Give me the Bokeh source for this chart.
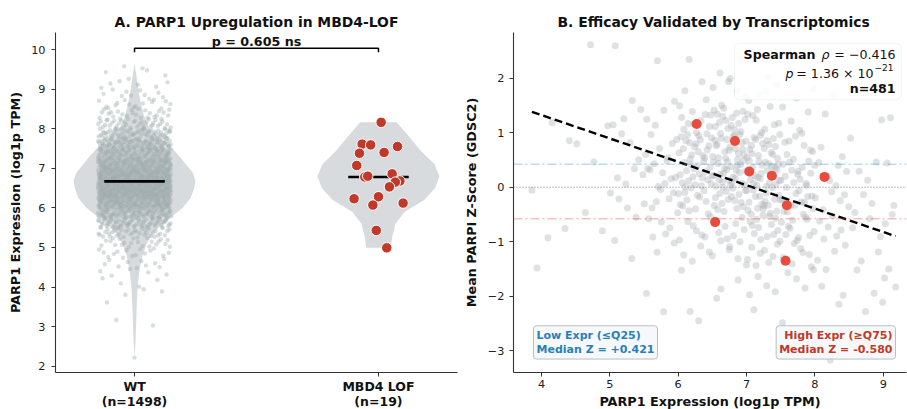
import numpy as np
from bokeh.plotting import figure
from bokeh.models import Range1d, FixedTicker, Label, BoxAnnotation, Span
from bokeh.layouts import row
from bokeh.embed import file_html
from bokeh.resources import INLINE

FONT = "DejaVu Sans"

# ---------------- Panel A data ----------------
group_names = ["WT", "MBD4 LOF"]
group_sizes = [1498, 19]
# WT expression histogram read from the strip cloud (bin edges, counts)
wt_bin_edges = [2.2, 2.25, 2.5, 2.75, 3.0, 3.25, 3.5, 3.75, 4.0, 4.25, 4.5, 4.75,
                5.0, 5.25, 5.5, 5.75, 6.0, 6.25, 6.5, 6.75, 7.0, 7.25, 7.5, 7.75,
                8.0, 8.25, 8.5, 8.75, 9.0, 9.25, 9.5, 9.65]
wt_bin_counts = [1, 0, 0, 0, 2, 0, 1, 3, 4, 6, 10, 14, 22, 38, 65, 100, 152, 199,
                 194, 171, 147, 112, 93, 65, 38, 24, 15, 10, 6, 4, 2]
# violin outlines (value, relative half-width)
wt_violin_y = [2.23, 2.6, 3.0, 3.5, 4.0, 4.4, 4.8, 5.1, 5.4, 5.7, 6.0, 6.25, 6.5,
               6.7, 6.9, 7.1, 7.3, 7.5, 7.75, 8.0, 8.3, 8.6, 8.9, 9.2, 9.45, 9.65]
wt_violin_w = [0.0, 0.015, 0.025, 0.035, 0.05, 0.08, 0.13, 0.2, 0.32, 0.55, 0.79,
               0.92, 0.98, 1.0, 0.95, 0.84, 0.74, 0.62, 0.42, 0.25, 0.16, 0.11,
               0.07, 0.045, 0.02, 0.0]
mbd4_values = [8.16, 7.61, 7.59, 7.55, 7.38, 7.40, 7.07, 6.86, 6.78, 6.80, 6.68,
               6.65, 6.53, 6.28, 6.23, 6.07, 6.12, 5.43, 4.99]
mbd4_jitter = [0.011, -0.067, -0.032, 0.078, -0.078, 0.023, -0.089, 0.056, -0.056,
               -0.044, 0.088, 0.069, 0.045, 0.0, -0.1, -0.023, 0.101, -0.009, 0.034]
mbd4_violin_y = [4.99, 5.3, 5.6, 5.9, 6.2, 6.5, 6.8, 7.1, 7.45, 7.8, 8.16]
mbd4_violin_w = [0.2, 0.23, 0.28, 0.43, 0.75, 0.93, 1.0, 0.92, 0.69, 0.5, 0.3]
p_label = "p = 0.605 ns"

# ---------------- Panel B data ----------------
expr_edges = [3.85, 4.0, 4.5, 5.0, 5.5, 6.0, 6.5, 7.0, 7.5, 8.0, 8.5, 9.0, 9.2]
z_edges = [2.65, 2.45, 2.0, 1.5, 1.0, 0.5, 0.0, -0.5, -1.0, -1.5, -2.0, -2.5, -3.0, -3.2]
# counts of cell lines per (expression bin) column, z bins top -> bottom
cell_counts_by_expr_bin = [
    [0, 0, 0, 0, 0, 0, 1, 0, 1, 0, 0, 0, 0],
    [0, 0, 0, 1, 1, 0, 0, 2, 0, 0, 0, 0, 0],
    [1, 0, 0, 1, 1, 1, 1, 1, 0, 0, 0, 0, 0],
    [1, 0, 1, 3, 3, 4, 3, 2, 1, 0, 0, 0, 0],
    [0, 1, 1, 3, 6, 9, 7, 5, 2, 1, 1, 0, 0],
    [0, 1, 3, 11, 19, 20, 13, 7, 4, 1, 2, 0, 0],
    [0, 2, 6, 16, 22, 25, 17, 10, 5, 2, 1, 0, 0],
    [0, 1, 4, 9, 18, 25, 20, 14, 8, 4, 1, 0, 0],
    [0, 1, 2, 4, 9, 15, 14, 11, 7, 4, 1, 0, 0],
    [0, 0, 1, 1, 2, 6, 6, 6, 3, 3, 1, 0, 1],
    [0, 0, 0, 1, 1, 3, 3, 3, 2, 2, 2, 1, 0],
    [0, 0, 0, 1, 0, 1, 1, 2, 1, 2, 0, 0, 0],
]
mbd4_expr = [6.27, 6.83, 7.04, 7.37, 8.14, 7.59, 6.54, 7.57]
mbd4_z = [1.16, 0.85, 0.29, 0.21, 0.19, -0.33, -0.64, -1.35]
fit_slope = -0.429
fit_intercept = 3.04
low_median_z = 0.421
high_median_z = -0.580
n_lines = 481


# quasi-uniform (Halton) placement inside bins -- layout only
def vdc(n, base):
    q, d = 0.0, 1.0
    while n > 0:
        d *= base
        n, r = divmod(n, base)
        q += r / d
    return q


wt_x, wt_y = [], []
j = 0
for i, n in enumerate(wt_bin_counts):
    lo, hi = wt_bin_edges[i], wt_bin_edges[i + 1]
    for k in range(n):
        j += 1
        u = vdc(j, 2)
        v = vdc(j, 3)
        wt_y.append(lo + v * (hi - lo))
        wt_x.append((u - 0.5) * 0.30)

gx, gy = [], []
j = 7
for c, col in enumerate(cell_counts_by_expr_bin):
    x0, x1 = expr_edges[c], expr_edges[c + 1]
    for r, n in enumerate(col):
        y0, y1 = z_edges[r + 1], z_edges[r]
        for k in range(n):
            j += 1
            u = vdc(j, 2)
            v = vdc(j, 3)
            gx.append(x0 + u * (x1 - x0))
            gy.append(y0 + v * (y1 - y0))


def style(p):
    p.outline_line_color = None
    p.xgrid.visible = False
    p.ygrid.visible = False
    p.background_fill_color = "white"
    p.border_fill_color = "white"
    for ax in p.axis:
        ax.axis_line_color = "#333333"
        ax.axis_line_width = 1.1
        ax.major_tick_line_color = "#333333"
        ax.major_tick_out = 4
        ax.major_tick_in = 0
        ax.minor_tick_line_color = None
        ax.major_label_text_font = FONT
        ax.major_label_text_font_size = "11.3px"
        ax.major_label_text_color = "#222222"
        ax.axis_label_text_font = FONT
        ax.axis_label_text_font_style = "bold"
        ax.axis_label_text_font_size = "12.8px"
        ax.axis_label_text_color = "#111111"
    p.title.text_font = FONT
    p.title.text_font_size = "13.9px"
    p.title.text_font_style = "bold"
    p.title.text_color = "#111111"
    p.title.standoff = 6


# ================= Panel A =================
p1 = figure(frame_width=402, frame_height=340,
            x_range=Range1d(-0.324, 1.324), y_range=Range1d(1.84, 10.43),
            output_backend="svg", toolbar_location=None,
            min_border_left=55, min_border_right=3, min_border_top=32,
            min_border_bottom=37, title="A. PARP1 Upregulation in MBD4-LOF")
style(p1)
p1.title.align = "center"

VW = 0.25
for center, vy, vw in [(0, wt_violin_y, wt_violin_w), (1, mbd4_violin_y, mbd4_violin_w)]:
    vy = np.array(vy)
    vw = np.array(vw) * VW
    xs = np.concatenate([center + vw, (center - vw)[::-1]])
    ys = np.concatenate([vy, vy[::-1]])
    p1.patch(xs, ys, fill_color="#bdc3c7", fill_alpha=0.6, line_color=None)

p1.scatter(wt_x, wt_y, size=4.4, fill_color="#9eaaac", fill_alpha=0.4, line_color=None)

medians = [float(np.median(wt_y)), float(np.median(mbd4_values))]
for center, m in zip([0, 1], medians):
    p1.line([center - 0.124, center + 0.124], [m, m], line_color="black", line_width=2.6)

p1.scatter([1 + d for d in mbd4_jitter], mbd4_values, size=10.5,
           fill_color="#c0392b", line_color="white", line_width=1)

bracket_y = 10.03
p1.line([0, 0, 1, 1], [bracket_y - 0.1, bracket_y, bracket_y, bracket_y - 0.1],
        line_color="black", line_width=1.5)
p1.add_layout(Label(x=0.5, y=bracket_y, y_offset=7, text=p_label, text_align="center",
                    text_baseline="middle", text_font=FONT, text_font_style="bold",
                    text_font_size="12.7px", text_color="#111111"))

p1.xaxis.ticker = FixedTicker(ticks=[0, 1])
p1.xaxis.major_label_overrides = {0: f"{group_names[0]}\n(n={group_sizes[0]})",
                                  1: f"{group_names[1]}\n(n={group_sizes[1]})"}
p1.xaxis.major_label_text_font_style = "bold"
p1.xaxis.major_label_text_font_size = "12.5px"
p1.xaxis.major_label_text_color = "#111111"
p1.xaxis.major_label_text_line_height = 1.05
p1.xaxis.major_label_standoff = 2
p1.yaxis.ticker = FixedTicker(ticks=[2, 3, 4, 5, 6, 7, 8, 9, 10])
p1.yaxis.axis_label = "PARP1 Expression (log1p TPM)"
p1.yaxis.major_label_standoff = 6
p1.yaxis.axis_label_standoff = 5

# ================= Panel B =================
p2 = figure(frame_width=393, frame_height=340,
            x_range=Range1d(3.59, 9.34), y_range=Range1d(-3.40, 2.84),
            output_backend="svg", toolbar_location=None,
            min_border_left=53, min_border_right=1, min_border_top=32,
            min_border_bottom=37, title="B. Efficacy Validated by Transcriptomics")
style(p2)
p2.title.align = "left"
p2.title.offset = 44


def rx(px):
    return 3.59 + (px - 513) / 68.35


def ry(py):
    return 2.84 - (py - 32) / 54.5


p2.add_layout(Span(location=low_median_z, dimension="width", line_color="#3498db",
                   line_alpha=0.35, line_width=1.5, line_dash="9 3 2 3"))
p2.add_layout(Span(location=high_median_z, dimension="width", line_color="#e74c3c",
                   line_alpha=0.35, line_width=1.5, line_dash="9 3 2 3"))
p2.add_layout(Span(location=0, dimension="width", line_color="#777777",
                   line_alpha=0.9, line_width=1, line_dash="1 2"))

p2.scatter(gx, gy, size=7, fill_color="#a6acb1", fill_alpha=0.36, line_color=None)

xmin, xmax = min(gx), max(gx)
p2.line([xmin, xmax], [fit_intercept + fit_slope * xmin, fit_intercept + fit_slope * xmax],
        line_color="black", line_width=2.4, line_dash="8 4")

p2.scatter(mbd4_expr, mbd4_z, size=10, fill_color="#e74c3c", line_color=None)

# Spearman box
p2.add_layout(BoxAnnotation(left=rx(734), right=rx(900.7), top=ry(42.7), bottom=ry(99.3),
                            fill_color="white", fill_alpha=0.85, line_color="#d0d4d7",
                            line_width=1, border_radius=5))
lab = dict(text_font=FONT, text_baseline="middle", text_color="#111111")
p2.add_layout(Label(x=rx(815), y=ry(54), text="Spearman", text_align="right",
                    text_font_style="bold", text_font_size="12.6px", **lab))
p2.add_layout(Label(x=rx(829), y=ry(54), text="ρ", text_align="right",
                    text_font_style="italic", text_font_size="12.6px", **lab))
p2.add_layout(Label(x=rx(895), y=ry(54), text="= −0.416", text_align="right",
                    text_font_size="12.6px", **lab))
p2.add_layout(Label(x=rx(793), y=ry(73), text="p", text_align="right",
                    text_font_style="italic", text_font_size="12.6px", **lab))
p2.add_layout(Label(x=rx(873), y=ry(73), text="= 1.36 × 10", text_align="right",
                    text_font_size="12.6px", **lab))
p2.add_layout(Label(x=rx(874), y=ry(67), text="−21", text_align="left",
                    text_font_size="9px", **lab))
p2.add_layout(Label(x=rx(895), y=ry(88), text=f"n={n_lines}", text_align="right",
                    text_font_style="bold", text_font_size="12.6px", **lab))

p2.add_layout(Label(x=rx(533), y=ry(342), text=f"Low Expr (≤Q25)\nMedian Z = {low_median_z:+.3f}",
                    text_align="left", text_baseline="middle", text_font=FONT,
                    text_font_style="bold", text_font_size="11px", text_color="#2980b9",
                    background_fill_color="#f6f8f9", background_fill_alpha=0.95,
                    border_line_color="#b9bfc4", border_line_width=1, padding=3,
                    border_radius=3, text_line_height=1.1))
p2.add_layout(Label(x=rx(895), y=ry(342), text=f"High Expr (≥Q75)\nMedian Z = {high_median_z:.3f}",
                    text_align="right", text_baseline="middle", text_font=FONT,
                    text_font_style="bold", text_font_size="11px", text_color="#c0392b",
                    background_fill_color="#f6f8f9", background_fill_alpha=0.95,
                    border_line_color="#b9bfc4", border_line_width=1, padding=3,
                    border_radius=3, text_line_height=1.1))

p2.xaxis.ticker = FixedTicker(ticks=[4, 5, 6, 7, 8, 9])
p2.xaxis.axis_label = "PARP1 Expression (log1p TPM)"
p2.xaxis.major_label_standoff = 3
p2.xaxis.axis_label_standoff = 3
p2.yaxis.ticker = FixedTicker(ticks=[-3, -2, -1, 0, 1, 2])
p2.yaxis.major_label_overrides = {-3: "−3", -2: "−2", -1: "−1", 0: "0", 1: "1", 2: "2"}
p2.yaxis.axis_label = "Mean PARPi Z-Score (GDSC2)"
p2.yaxis.major_label_standoff = 5
p2.yaxis.axis_label_standoff = 6

layout = row(p1, p2)
open("out.html", "w").write(file_html(layout, INLINE))
